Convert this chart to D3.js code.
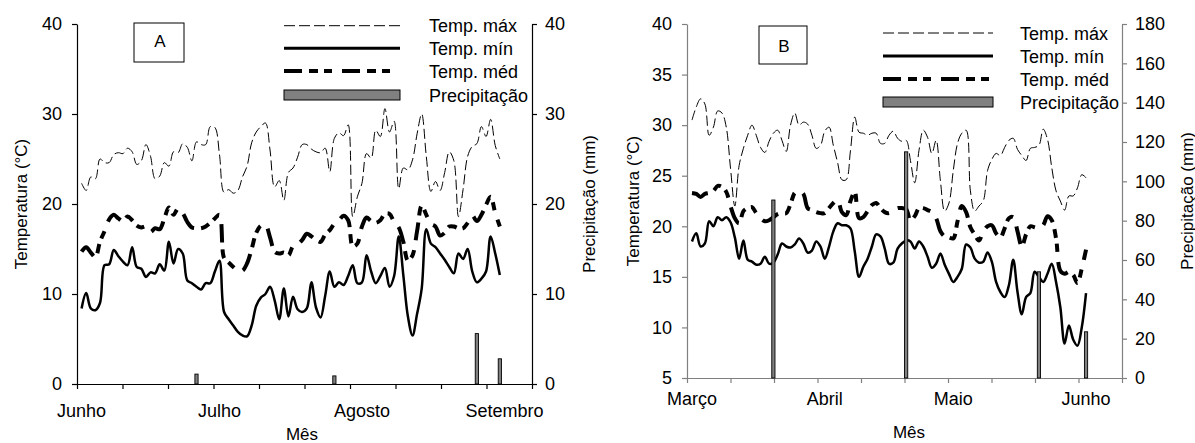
<!DOCTYPE html>
<html>
<head>
<meta charset="utf-8">
<script src="https://cdn.jsdelivr.net/npm/d3@7"></script>
<style>
  html,body{margin:0;padding:0;background:#fff;}
  svg text{font-family:"Liberation Sans",Arial,sans-serif;fill:#000;}
</style>
</head>
<body>
<svg id="chart" width="1195" height="443"></svg>
<script>
// ---------------- Panel A (Junho – Agosto) ----------------
const monthsA = ["Junho","Julho","Agosto","Setembro"];
const monthDaysA = [0,30,61,92];
const tmaxA = [22.3,21.5,23.0,22.8,25.0,24.6,24.6,25.5,25.7,25.6,
 26.2,25.8,24.4,24.8,26.6,25.3,22.8,23.1,24.6,24.2,
 25.8,25.7,26.7,26.3,24.8,26.9,26.6,26.6,28.6,28.5,
 25.5,21.3,21.6,21.2,21.5,23.0,24.2,26.8,28.0,28.6,
 29.0,26.0,21.9,22.6,20.4,23.5,24.0,25.2,26.6,26.6,
 26.1,25.8,25.7,26.2,23.6,27.3,27.9,27.6,28.8,18.6,
 20.8,22.3,25.6,25.1,28.2,27.5,30.6,28.0,29.2,21.7,
 24.0,23.8,24.9,27.8,30.0,25.3,21.4,22.5,21.5,23.5,
 25.8,24.8,18.6,21.6,25.3,26.4,26.7,28.6,27.5,29.4,
 26.5,25.0];
const tminA = [8.4,10.1,8.4,8.2,9.0,13.2,13.3,14.9,14.2,13.6,
 13.2,15.2,13.0,12.8,11.9,12.4,12.3,13.3,12.6,15.8,
 13.4,15.0,14.5,11.5,11.2,10.8,10.5,11.2,11.2,12.5,
 13.7,8.0,7.2,6.5,5.8,5.4,5.3,6.5,8.7,9.6,
 10.0,10.8,9.3,7.2,10.6,7.5,9.7,8.3,8.0,8.4,
 11.3,8.5,7.4,9.8,12.5,10.8,11.3,11.0,12.0,13.2,
 11.2,11.3,14.3,12.5,11.2,12.0,12.9,10.8,12.0,16.4,
 12.1,7.5,5.4,7.8,10.6,17.2,15.6,15.2,14.5,13.8,
 13.0,12.3,14.5,13.9,15.0,12.5,11.3,11.7,12.5,16.4,
 14.5,12.1];
const tmedA = [14.7,15.2,14.6,14.1,15.8,17.0,18.3,18.8,18.4,18.1,
 18.6,18.2,17.6,17.4,17.5,16.9,17.3,17.2,18.4,19.6,
 18.8,19.5,19.0,18.0,17.4,17.3,17.3,17.5,17.9,18.4,
 18.8,14.0,13.5,13.0,12.6,12.6,13.4,15.0,16.8,17.6,
 17.7,16.3,14.7,14.5,14.6,14.3,15.3,15.5,16.0,16.7,
 16.4,16.0,15.8,16.6,17.1,17.8,18.2,18.7,18.2,15.3,
 15.6,17.5,18.5,18.1,17.9,18.2,18.9,18.9,18.0,17.4,
 15.8,13.7,14.3,17.0,19.8,18.8,17.8,17.5,16.5,16.8,
 17.5,17.5,17.3,17.3,17.9,18.7,18.1,18.8,19.9,20.8,
 19.0,17.5];
const precipDaysA = [25,55,86,91];
const precipA = [1.1,0.9,5.6,2.8];
const tempTicksA = [0,10,20,30,40];
const precTicksA = [0,10,20,30,40];

// ---------------- Panel B (Março – Junho) ----------------
const monthsB = ["Março","Abril","Maio","Junho"];
const monthDaysB = [0,31,61,92];
const tmaxB = [30.5,31.8,32.6,32.1,29.0,29.8,31.4,31.2,29.8,25.7,
 22.0,26.0,27.7,29.0,30.0,29.0,27.8,27.3,28.4,29.2,
 29.5,28.5,27.4,30.0,31.2,30.0,30.3,30.1,29.0,27.7,
 28.0,29.4,29.8,28.0,26.3,24.6,24.6,27.5,30.8,29.3,
 29.2,29.0,29.2,29.2,28.2,28.2,29.0,29.4,28.7,28.4,
 28.5,26.5,24.3,27.5,29.5,28.8,27.2,28.5,24.5,21.5,
 22.3,25.5,28.2,29.2,29.5,23.5,21.5,22.0,22.5,25.5,
 26.6,27.2,27.0,27.8,28.5,28.7,27.6,27.0,26.5,27.7,
 27.8,28.0,29.6,28.6,25.8,23.5,22.5,21.6,23.0,23.0,
 23.8,25.1,24.8];
const tminB = [18.5,19.3,18.0,18.3,20.5,20.0,20.9,20.6,20.9,20.4,
 18.9,16.8,18.6,16.7,16.5,16.2,16.3,17.0,16.3,16.4,
 17.2,18.3,18.0,17.9,18.2,18.8,18.3,17.4,17.6,18.5,
 18.0,16.8,18.0,19.5,20.3,20.1,20.1,19.8,17.5,15.0,
 16.0,16.8,18.0,19.2,19.0,17.8,16.3,16.4,17.8,18.3,
 18.6,18.5,17.8,18.5,18.0,17.0,15.9,16.3,17.3,16.2,
 15.3,14.5,15.0,15.8,18.2,17.9,16.8,16.4,16.5,17.4,
 16.5,14.5,13.5,13.0,14.2,16.7,13.5,11.3,13.0,13.4,
 15.5,15.0,14.5,15.3,16.3,14.5,12.0,8.4,10.2,8.8,
 8.2,10.0,13.4];
const tmedB = [23.3,23.2,22.9,23.2,23.3,23.5,24.0,23.9,23.4,22.0,
 20.8,20.3,21.5,21.8,21.9,21.3,20.8,20.5,20.6,20.9,
 21.2,21.3,21.3,22.2,23.3,23.5,23.2,21.8,21.6,21.4,
 21.3,21.3,21.8,22.3,22.6,21.4,21.1,22.5,23.4,20.8,
 20.9,21.5,22.1,22.3,21.8,21.4,21.3,21.6,21.8,21.8,
 21.7,20.6,21.0,21.8,21.8,21.6,21.4,20.8,19.5,19.0,
 18.9,18.8,20.5,22.0,21.4,19.9,19.2,18.6,19.5,20.0,
 20.1,19.3,18.9,19.8,20.8,20.9,19.5,18.0,19.2,20.0,
 19.9,19.8,20.1,21.0,20.6,18.8,15.6,15.3,15.5,15.2,
 14.4,15.8,17.7];
const precipDaysB = [19,50,81,92];
const precipB = [90.5,115,54,23.5];
const tempTicksB = [5,10,15,20,25,30,35,40];
const precTicksB = [0,20,40,60,80,100,120,140,160,180];

const legendLabels = ["Temp. máx","Temp. mín","Temp. méd","Precipitação"];

// ---------------- drawing ----------------
const svg = d3.select("#chart");

function panel(cfg){
  const g = svg.append("g");
  const x = d3.scaleLinear().domain(cfg.xDomain).range([cfg.left, cfg.right]);
  const yT = d3.scaleLinear().domain(cfg.tDomain).range([cfg.bottom, cfg.top]);
  const yP = d3.scaleLinear().domain(cfg.pDomain).range([cfg.bottom, cfg.top]);
  const axColor = cfg.axisColor;

  // axes
  const styleAxis = sel => {
    sel.select(".domain").attr("stroke", axColor).attr("stroke-width", 1.2);
    sel.selectAll(".tick line").attr("stroke", axColor).attr("stroke-width", 1.2);
    sel.selectAll(".tick text").attr("font-size", 18).attr("fill", "#000")
      .attr("font-family", '"Liberation Sans",Arial,sans-serif');
  };
  g.append("g").attr("transform", `translate(${cfg.left},0)`)
    .call(d3.axisLeft(yT).tickValues(cfg.tTicks).tickSize(5).tickSizeOuter(0).tickPadding(cfg.padL))
    .call(styleAxis);
  g.append("g").attr("transform", `translate(${cfg.right},0)`)
    .call(d3.axisRight(yP).tickValues(cfg.pTicks).tickSize(5).tickSizeOuter(0).tickPadding(cfg.padR))
    .call(styleAxis);
  const d0 = cfg.xDomain[0], d1 = cfg.xDomain[1];
  const xTicks = d3.range(11).map(i => d0 + i*(d1-d0)/10);
  g.append("g").attr("transform", `translate(0,${cfg.bottom})`)
    .call(d3.axisBottom(x).tickValues(xTicks).tickSize(5).tickSizeOuter(0).tickFormat(""))
    .call(styleAxis);

  // month labels
  g.selectAll("text.month").data(cfg.months).enter().append("text")
    .attr("class","month")
    .attr("x", (m,i) => x(cfg.monthDays[i]))
    .attr("y", cfg.monthY)
    .attr("text-anchor","middle").attr("font-size",18)
    .text(m => m);

  // axis titles
  g.append("text").attr("x", cfg.xTitleX).attr("y", cfg.xTitleY)
    .attr("text-anchor","middle").attr("font-size",17).text("Mês");
  g.append("text").attr("transform", `translate(${cfg.yTitleLX},${(cfg.top+cfg.bottom)/2}) rotate(-90)`)
    .attr("text-anchor","middle").attr("dominant-baseline","central").attr("font-size",17)
    .text("Temperatura (°C)");
  g.append("text").attr("transform", `translate(${cfg.yTitleRX},${(cfg.top+cfg.bottom)/2}) rotate(-90)`)
    .attr("text-anchor","middle").attr("dominant-baseline","central").attr("font-size",17)
    .text("Precipitação (mm)");

  // lines
  const days = d3.range(cfg.tmax.length);
  const mk = arr => d3.line().x((d,i) => x(days[i])).y(d => yT(d)).curve(d3.curveCatmullRom.alpha(0.5))(arr);
  g.append("path").attr("d", mk(cfg.tmax)).attr("fill","none").attr("stroke","#000")
    .attr("stroke-width",1).attr("stroke-dasharray","10,4");
  g.append("path").attr("d", mk(cfg.tmed)).attr("fill","none").attr("stroke","#000")
    .attr("stroke-width",4).attr("stroke-dasharray","18,7,9,6,8,10");
  g.append("path").attr("d", mk(cfg.tmin)).attr("fill","none").attr("stroke","#000")
    .attr("stroke-width",2.5);

  // precipitation bars
  g.selectAll("rect.bar").data(cfg.precip).enter().append("rect")
    .attr("class","bar")
    .attr("x", (v,i) => x(cfg.precipDays[i]) - 1.6)
    .attr("width", 3.2)
    .attr("y", v => yP(v))
    .attr("height", v => yP(cfg.pDomain[0]) - yP(v))
    .attr("fill","#808080").attr("stroke","#000").attr("stroke-width",0.9);

  // legend
  const L = cfg.legend;
  const rows = L.rows;
  g.append("line").attr("x1",L.x1).attr("x2",L.x2).attr("y1",rows[0]).attr("y2",rows[0])
    .attr("stroke","#000").attr("stroke-width",1).attr("stroke-dasharray","11,4");
  g.append("line").attr("x1",L.x1).attr("x2",L.x2).attr("y1",rows[1]).attr("y2",rows[1])
    .attr("stroke","#000").attr("stroke-width",3);
  g.append("line").attr("x1",L.x1).attr("x2",L.x2).attr("y1",rows[2]).attr("y2",rows[2])
    .attr("stroke","#000").attr("stroke-width",4).attr("stroke-dasharray","18,7,9,6,8,10");
  g.append("rect").attr("x",L.x1).attr("width",L.x2-L.x1).attr("y",rows[3]-5).attr("height",10)
    .attr("fill","#808080").attr("stroke","#000").attr("stroke-width",1);
  g.selectAll("text.leg").data(legendLabels).enter().append("text")
    .attr("class","leg").attr("x", L.tx).attr("y",(d,i)=>rows[i]+6.5)
    .attr("font-size",18).text(d=>d);

  // panel label box
  const B = cfg.box;
  g.append("rect").attr("x",B.x).attr("y",B.y).attr("width",B.w).attr("height",B.h)
    .attr("fill","#fff").attr("stroke","#000").attr("stroke-width",1);
  g.append("text").attr("x",B.x+B.w/2+1).attr("y",B.ty).attr("text-anchor","middle")
    .attr("font-size",17).text(cfg.label);
}

panel({
  left:77, right:532, top:24, bottom:384,
  xDomain:[-1,98], tDomain:[0,40], pDomain:[0,40],
  tTicks:tempTicksA, pTicks:precTicksA, padL:10, padR:8,
  axisColor:"#000",
  months:monthsA, monthDays:monthDaysA, monthY:417,
  xTitleX:302, xTitleY:440, yTitleLX:21, yTitleRX:589,
  tmax:tmaxA, tmin:tminA, tmed:tmedA,
  precip:precipA, precipDays:precipDaysA,
  legend:{x1:284,x2:400,rows:[25.7,48.3,71,95],tx:429},
  box:{x:134,y:23,w:50,h:39,ty:47}, label:"A"
});

panel({
  left:687, right:1122, top:24, bottom:378,
  xDomain:[-5/4.283, 430/4.283], tDomain:[5,40], pDomain:[0,180],
  tTicks:tempTicksB, pTicks:precTicksB, padL:10, padR:8,
  axisColor:"#808080",
  months:monthsB, monthDays:monthDaysB, monthY:405,
  xTitleX:909, xTitleY:438, yTitleLX:633, yTitleRX:1187,
  tmax:tmaxB, tmin:tminB, tmed:tmedB,
  precip:precipB, precipDays:precipDaysB,
  legend:{x1:883,x2:993,rows:[33,56,79,102],tx:1020},
  box:{x:759,y:26,w:48,h:38,ty:52}, label:"B"
});
</script>
</body>
</html>
